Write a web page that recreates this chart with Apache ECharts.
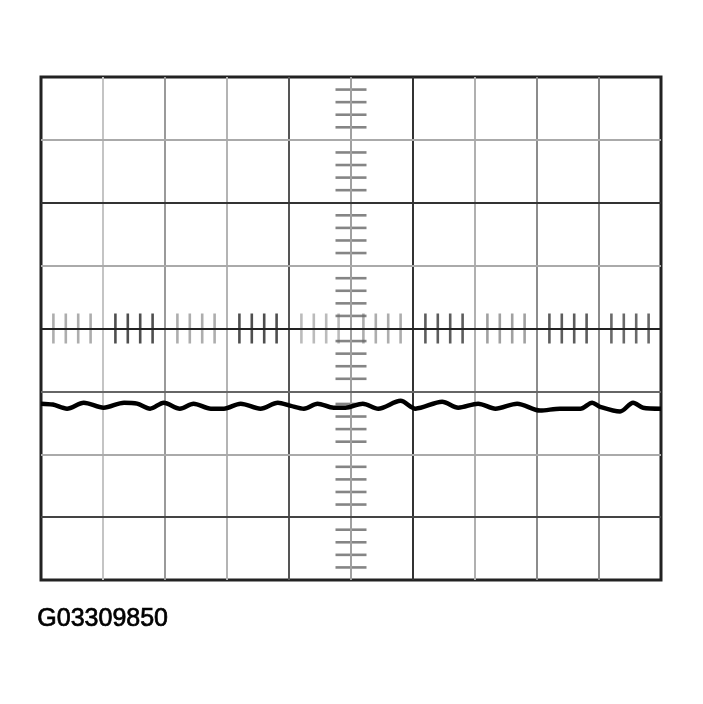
<!DOCTYPE html>
<html><head><meta charset="utf-8">
<script src="https://cdn.jsdelivr.net/npm/echarts@6/dist/echarts.min.js"></script>
<style>html,body{margin:0;padding:0;background:#fff;}#c{width:703px;height:704px;}</style>
</head><body><div id="c"></div>
<script>
// Trace (time in divisions, voltage in divisions)
const traceTime = [-5.0,-4.81,-4.58,-4.31,-3.99,-3.66,-3.45,-3.24,-3.02,-2.76,-2.54,-2.26,-2.05,-1.78,-1.46,-1.18,-0.97,-0.76,-0.54,-0.28,-0.09,0.19,0.44,0.80,1.04,1.47,1.73,2.05,2.33,2.68,3.05,3.37,3.70,3.89,4.02,4.34,4.55,4.71,5.0];
const traceVolt = [-1.195,-1.21,-1.275,-1.18,-1.26,-1.18,-1.195,-1.275,-1.18,-1.275,-1.195,-1.275,-1.275,-1.195,-1.275,-1.18,-1.23,-1.275,-1.195,-1.26,-1.26,-1.195,-1.275,-1.15,-1.275,-1.165,-1.26,-1.195,-1.275,-1.195,-1.305,-1.275,-1.275,-1.18,-1.245,-1.32,-1.18,-1.26,-1.275];
// Graticule
const xDivs = [-4,-3,-2,-1,0,1,2,3,4];
const xDivColors = ['#c4c4c4','#9a9a9a','#b4b4b4','#555','#a0a0a0','#333','#b0b0b0','#8c8c8c','#8a8a8a'];
const yDivs = [-3,-2,-1,0,1,2,3];
const yDivColors = ['#444','#aaa','#666','#222','#aaa','#333','#aaa'];
const hTickDivColors = ['#999','#222','#999','#222','#aaa','#999','#333','#888','#333','#444'];
const labelText = 'G03309850';

const hTicks = [];
for (let k = -24; k <= 24; k++) {
  if (k % 5 === 0) continue;
  const d = Math.floor((k + 25) / 5);
  hTicks.push({value: [k / 5, 0], itemStyle: {color: hTickDivColors[d]}});
}
const vTicks = [];
for (let k = -19; k <= 19; k++) {
  if (k % 5 === 0) continue;
  vTicks.push([0, k / 5]);
}
const xLines = xDivs.map((v, i) => ({xAxis: v, lineStyle: {color: xDivColors[i], width: 2, type: 'solid'}}));
const yLines = yDivs.map((v, i) => ({yAxis: v, lineStyle: {color: yDivColors[i], width: v === 0 ? 2.2 : 2, type: 'solid'}}));

const chart = echarts.init(document.getElementById('c'));
chart.setOption({
  animation: false,
  backgroundColor: '#fff',
  grid: {left: 41, right: 42, top: 77, bottom: 124, show: true, borderColor: '#222', borderWidth: 3, backgroundColor: 'transparent'},
  xAxis: {type: 'value', min: -5, max: 5, interval: 1, axisLine: {show: false}, axisTick: {show: false}, axisLabel: {show: false}, splitLine: {show: false}},
  yAxis: {type: 'value', min: -4, max: 4, interval: 1, axisLine: {show: false}, axisTick: {show: false}, axisLabel: {show: false}, splitLine: {show: false}},
  graphic: [{type: 'text', left: 37, top: 606, style: {text: labelText, font: '25px "Liberation Sans", Arial, sans-serif', fill: '#000', stroke: '#000', lineWidth: 0.7}}],
  series: [
    {type: 'line', data: [], silent: true, z: 1,
     markLine: {silent: true, symbol: 'none', label: {show: false}, data: xLines.concat(yLines)}},
    {type: 'scatter', data: hTicks, symbol: 'rect', symbolSize: [2.6, 30], silent: true, z: 3},
    {type: 'scatter', data: vTicks, symbol: 'rect', symbolSize: [31, 2.6], itemStyle: {color: '#666'}, silent: true, z: 3},
    {type: 'line', data: traceTime.map((t, i) => [t, traceVolt[i]]), showSymbol: false, smooth: 0.3,
     lineStyle: {color: '#000', width: 4.5}, silent: true, z: 5}
  ]
});
</script></body></html>
